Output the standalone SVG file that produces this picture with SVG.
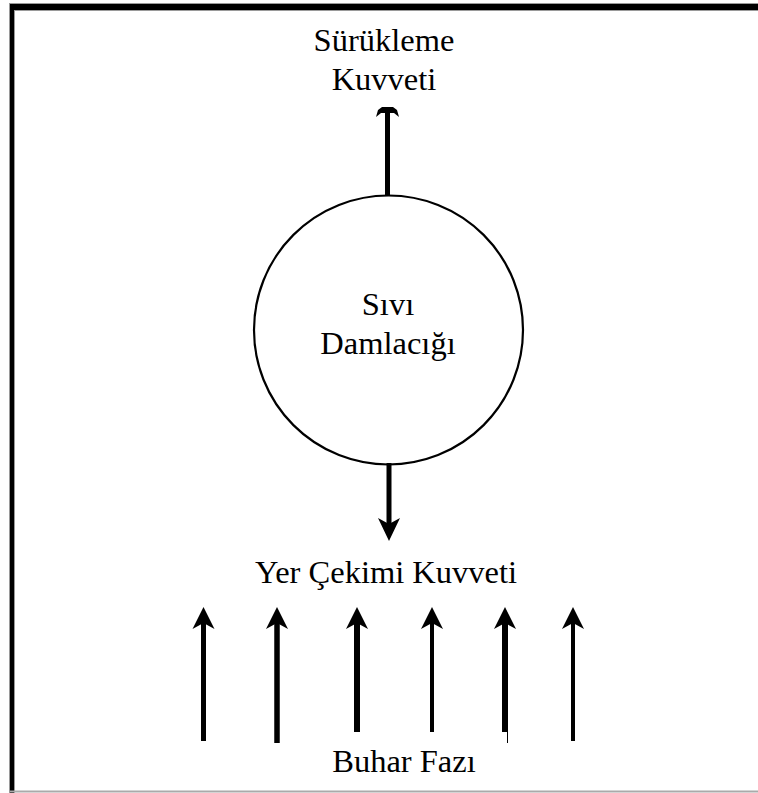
<svg xmlns="http://www.w3.org/2000/svg" width="758" height="793" viewBox="0 0 758 793">
<style>
  .lbl { font-family: "Liberation Serif", "Times New Roman", serif; font-size: 32.5px; fill: #000; text-anchor: middle; }
  .shaft { stroke: #000; fill: none; }
  .head { fill: #000; stroke: none; }
</style>
<defs>
  <path id="upHead" d="M0,0 L11,22 L0,16 L-11,22 Z"/>
</defs>
<rect width="758" height="793" fill="#fff"/>
<g id="frame">
  <rect x="9" y="3" width="749" height="8" fill="#9a9a9a"/>
  <rect x="9" y="3" width="6" height="790" fill="#9a9a9a"/>
  <rect x="10" y="4" width="748" height="6" fill="#000"/>
  <rect x="10" y="4" width="4" height="789" fill="#000"/>
  <line x1="10" y1="791.5" x2="758" y2="791.5" stroke="#aaa" stroke-width="2"/>
</g>
<g id="droplet">
  <circle cx="388.5" cy="330" r="134.5" fill="none" stroke="#000" stroke-width="2.2"/>
  <text class="lbl" x="388" y="315">Sıvı</text>
  <text class="lbl" x="388" y="354">Damlacığı</text>
</g>
<g id="drag-label">
  <text class="lbl" x="384" y="51">Sürükleme</text>
  <text class="lbl" x="384" y="90">Kuvveti</text>
</g>
<g id="gravity-label">
  <text class="lbl" x="386" y="583">Yer Çekimi Kuvveti</text>
</g>
<g id="vapor-label">
  <text class="lbl" x="404" y="772">Buhar Fazı</text>
</g>
<g id="connectors">
  <!-- drag arrow (up) -->
  <line class="shaft" x1="387.5" y1="196" x2="387.5" y2="111" stroke-width="5"/>
  <path class="head" d="M376,117 L378,110 L382,107 L393,107 L397,110 L399,117 L394,113 L381,113 Z"/>
  <!-- gravity arrow (down) -->
  <line class="shaft" x1="389" y1="463" x2="389" y2="526" stroke-width="5"/>
  <path class="head" d="M389,541 L378,518 L389,524 L400,518 Z"/>
  <!-- vapor arrows -->
  <line class="shaft" x1="203.5" y1="620" x2="203.5" y2="741" stroke-width="5"/>
  <use href="#upHead" class="head" x="203.5" y="607"/>
  <line class="shaft" x1="277" y1="620" x2="277" y2="743" stroke-width="5.5"/>
  <use href="#upHead" class="head" x="277" y="607"/>
  <line class="shaft" x1="357" y1="620" x2="357" y2="732" stroke-width="6"/>
  <use href="#upHead" class="head" x="357" y="607"/>
  <line class="shaft" x1="432" y1="620" x2="432" y2="732" stroke-width="4"/>
  <use href="#upHead" class="head" x="432" y="607"/>
  <line class="shaft" x1="505" y1="620" x2="505" y2="732" stroke-width="6"/>
  <line class="shaft" x1="507.5" y1="732" x2="507.5" y2="743" stroke-width="1"/>
  <use href="#upHead" class="head" x="505" y="607"/>
  <line class="shaft" x1="573" y1="620" x2="573" y2="741" stroke-width="4"/>
  <use href="#upHead" class="head" x="573" y="607"/>
</g>
</svg>
